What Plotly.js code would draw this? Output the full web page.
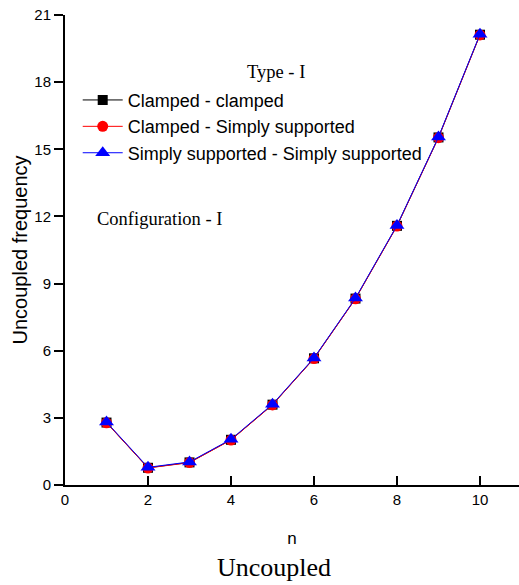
<!DOCTYPE html>
<html>
<head>
<meta charset="utf-8">
<script src="https://cdn.plot.ly/plotly-3.0.1.min.js"></script>
<style>html,body{margin:0;padding:0;background:#fff;}#chart{width:519px;height:585px;}</style>
</head>
<body>
<div id="chart"></div>
<script>
const nValues = [1, 2, 3, 4, 5, 6, 7, 8, 9, 10];
const clampedClamped = [2.79, 0.77, 1.01, 2.02, 3.59, 5.66, 8.33, 11.58, 15.53, 20.12];
const clampedSimply = [2.78, 0.76, 1.00, 2.01, 3.58, 5.65, 8.32, 11.57, 15.52, 20.11];
const simplySimply = [2.81, 0.79, 1.03, 2.04, 3.61, 5.68, 8.35, 11.60, 15.55, 20.14];
const seriesNames = ['Clamped - clamped', 'Clamped - Simply supported', 'Simply supported - Simply supported'];
const yTickVals = [0, 3, 6, 9, 12, 15, 18, 21];
const xTickVals = [0, 2, 4, 6, 8, 10];

const narrow = '"Liberation Sans Narrow", "Arial Narrow", "Liberation Sans", Arial, sans-serif';
const sans = '"Liberation Sans", Arial, sans-serif';
const serif = '"Liberation Serif", "Times New Roman", serif';

const traces = [
  {x: nValues, y: clampedClamped, name: seriesNames[0], mode: 'lines+markers',
   line: {color: '#000000', width: 1}, marker: {symbol: 'square', size: 10, color: '#000000'}},
  {x: nValues, y: clampedSimply, name: seriesNames[1], mode: 'lines+markers',
   line: {color: '#ff0000', width: 1}, marker: {symbol: 'circle', size: 11, color: '#ff0000'}},
  {x: nValues, y: simplySimply, name: seriesNames[2], mode: 'lines+markers',
   line: {color: '#0000ff', width: 1}, marker: {symbol: 'triangle-up', size: 13, color: '#0000ff'}}
];

const layout = {
  width: 519, height: 585,
  margin: {l: 65, r: 0, t: 15, b: 100},
  paper_bgcolor: '#ffffff', plot_bgcolor: '#ffffff',
  showlegend: true,
  legend: {x: 0.028, y: 0.858, xanchor: 'left', yanchor: 'top',
    font: {family: sans, size: 18, color: '#000'}, bgcolor: 'rgba(0,0,0,0)',
    itemwidth: 40, tracegroupgap: 0},
  xaxis: {range: [0, 10.94], tickvals: xTickVals, ticks: 'inside', ticklen: 9, tickwidth: 2,
    tickcolor: '#000', showline: true, linewidth: 2, linecolor: '#000', showgrid: false, zeroline: false,
    tickfont: {family: narrow, size: 15, color: '#000'},
    title: {text: 'n', font: {family: sans, size: 17, color: '#000'}, standoff: 25}},
  yaxis: {range: [0, 21], tickvals: yTickVals, ticks: 'outside', ticklen: 9, tickwidth: 2,
    tickcolor: '#000', showline: true, linewidth: 2, linecolor: '#000', showgrid: false, zeroline: false,
    tickfont: {family: narrow, size: 15, color: '#000'},
    title: {text: 'Uncoupled frequency', font: {family: sans, size: 20, color: '#000'}, standoff: 1}},
  xaxis2: {overlaying: 'x', side: 'top', anchor: 'y', range: [0, 4.973], dtick: 1, tick0: 0,
    ticks: 'inside', ticklen: 9, tickwidth: 2, tickcolor: '#000', showline: true, linewidth: 2,
    linecolor: '#000', showticklabels: false, showgrid: false, zeroline: false},
  yaxis2: {overlaying: 'y', side: 'right', anchor: 'x', range: [0, 5], dtick: 1, tick0: 0,
    ticks: 'inside', ticklen: 6, tickwidth: 2, tickcolor: '#000', showline: false,
    showticklabels: false, showgrid: false, zeroline: false},
  annotations: [
    {text: 'Type - I', xref: 'paper', yref: 'paper', x: (276 - 65) / 454, y: (485 - 72) / 470,
     xanchor: 'center', yanchor: 'middle',
     showarrow: false, font: {family: serif, size: 18.5, color: '#000'}},
    {text: 'Configuration - I', xref: 'paper', yref: 'paper', x: (159 - 65) / 454, y: (485 - 219) / 470,
     xanchor: 'center', yanchor: 'middle',
     showarrow: false, font: {family: serif, size: 18.5, color: '#000'}},
    {text: 'Uncoupled', xref: 'paper', yref: 'paper', x: (274 - 65) / 454, y: (485 - 567) / 470,
     xanchor: 'center', yanchor: 'middle',
     showarrow: false, font: {family: serif, size: 26, color: '#000'}}
  ]
};

Plotly.newPlot('chart', traces, layout, {displayModeBar: false, staticPlot: true});
</script>
</body>
</html>
